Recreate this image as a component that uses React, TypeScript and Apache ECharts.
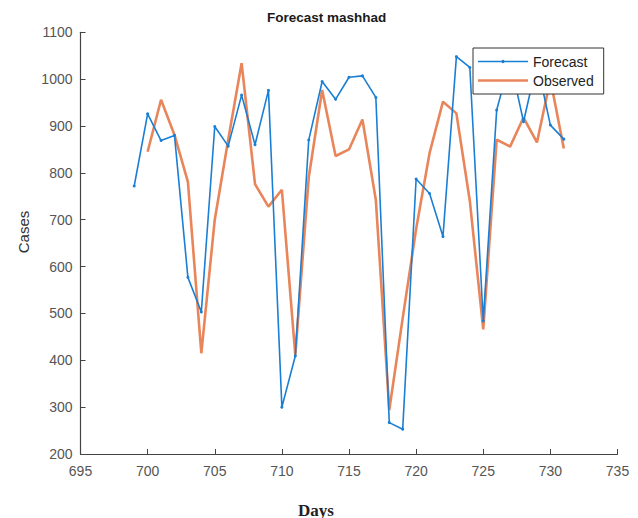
import React, { useEffect, useRef } from "react";
import * as echarts from "echarts";

const forecastDays = [699, 700, 701, 702, 703, 704, 705, 706, 707, 708, 709, 710, 711, 712, 713, 714, 715, 716, 717, 718, 719, 720, 721, 722, 723, 724, 725, 726, 727, 728, 729, 730, 731];
const forecastValues = [772, 926, 869, 880, 577, 503, 899, 857, 966, 860, 976, 300, 409, 870, 995, 957, 1004, 1007, 961, 267, 253, 787, 756, 664, 1048, 1025, 484, 934, 1040, 909, 1035, 902, 872];

const observedDays = [700, 701, 702, 703, 704, 705, 706, 707, 708, 709, 710, 711, 712, 713, 714, 715, 716, 717, 718, 719, 720, 721, 722, 723, 724, 725, 726, 727, 728, 729, 730, 731];
const observedValues = [845, 956, 881, 781, 415, 700, 870, 1034, 776, 728, 764, 411, 790, 977, 836, 850, 914, 742, 294, 490, 680, 842, 952, 927, 740, 466, 871, 856, 918, 865, 1000, 852];

const titleText = "Forecast mashhad";
const xName = "Days";
const yName = "Cases";

export default function App() {
  const ref = useRef<HTMLDivElement>(null);
  useEffect(() => {
    if (!ref.current) return;
    const chart = echarts.init(ref.current, null, { renderer: "svg" });
    const sans = "Liberation Sans, Arial, Helvetica, sans-serif";
    chart.setOption({
      animation: false,
      backgroundColor: "#ffffff",
      title: {
        text: titleText,
        left: 267,
        top: 10,
        padding: 0,
        textStyle: { fontFamily: sans, fontSize: 13.5, fontWeight: "bold", color: "#1a1a1a" },
      },
      legend: {
        orient: "vertical",
        left: 473,
        top: 48,
        padding: [5, 10, 5, 5],
        itemGap: 2,
        itemWidth: 50,
        itemHeight: 10,
        itemTextGap: 3,
        borderColor: "#333",
        borderWidth: 1,
        backgroundColor: "#fff",
        textStyle: { fontFamily: sans, fontSize: 14, color: "#222", lineHeight: 17 },
        data: [
          { name: "Forecast", icon: "path://M0,4.3h23.2v1.4h-23.2z M26.8,4.3h23.2v1.4h-23.2z M23.2,5a1.8,1.8 0 1,0 3.6,0a1.8,1.8 0 1,0 -3.6,0z" },
          { name: "Observed", icon: "path://M0,3.8h50v2.4h-50z" },
        ],
      },
      grid: { left: 80.5, right: 20.5, top: 32.3, bottom: 64 },
      xAxis: {
        type: "value",
        min: 695,
        max: 735,
        interval: 5,
        splitLine: { show: false },
        axisLine: { lineStyle: { color: "#444", width: 1.2 } },
        axisTick: { inside: true, length: 5, lineStyle: { color: "#444" } },
        axisLabel: { fontFamily: sans, fontSize: 14, color: "#555", margin: 10 },
      },
      yAxis: {
        type: "value",
        min: 200,
        max: 1100,
        interval: 100,
        splitLine: { show: false },
        axisLine: { show: true, lineStyle: { color: "#444", width: 1.2 } },
        axisTick: { show: true, inside: true, length: 5, lineStyle: { color: "#444" } },
        axisLabel: {
          fontFamily: sans,
          fontSize: 14,
          color: "#555",
          margin: 8,
          formatter: (v: number) => String(v),
        },
      },
      graphic: [
        {
          type: "text",
          x: 316,
          y: 510,
          style: {
            text: xName,
            fontFamily: "Liberation Serif, Times New Roman, serif",
            fontSize: 17,
            fontWeight: "bold",
            fill: "#222",
            textAlign: "center",
            textVerticalAlign: "middle",
          },
        },
        {
          type: "text",
          x: 23,
          y: 232,
          rotation: Math.PI / 2,
          style: {
            text: yName,
            fontFamily: sans,
            fontSize: 15,
            fill: "#333",
            textAlign: "center",
            textVerticalAlign: "middle",
          },
        },
      ],
      series: [
        {
          name: "Forecast",
          type: "line",
          data: forecastDays.map((d, i) => [d, forecastValues[i]]),
          symbol: "circle",
          symbolSize: 3,
          lineStyle: { color: "#1a7fd4", width: 1.6 },
          itemStyle: { color: "#1a7fd4" },
          z: 3,
        },
        {
          name: "Observed",
          type: "line",
          data: observedDays.map((d, i) => [d, observedValues[i]]),
          symbol: "none",
          lineStyle: { color: "#e9855a", width: 2.6 },
          itemStyle: { color: "#e9855a" },
          z: 2,
        },
      ],
    });
    return () => chart.dispose();
  }, []);
  return (
    <div
      ref={ref}
      style={{ position: "fixed", left: 0, top: 0, width: 638, height: 518, background: "#fff" }}
    />
  );
}
